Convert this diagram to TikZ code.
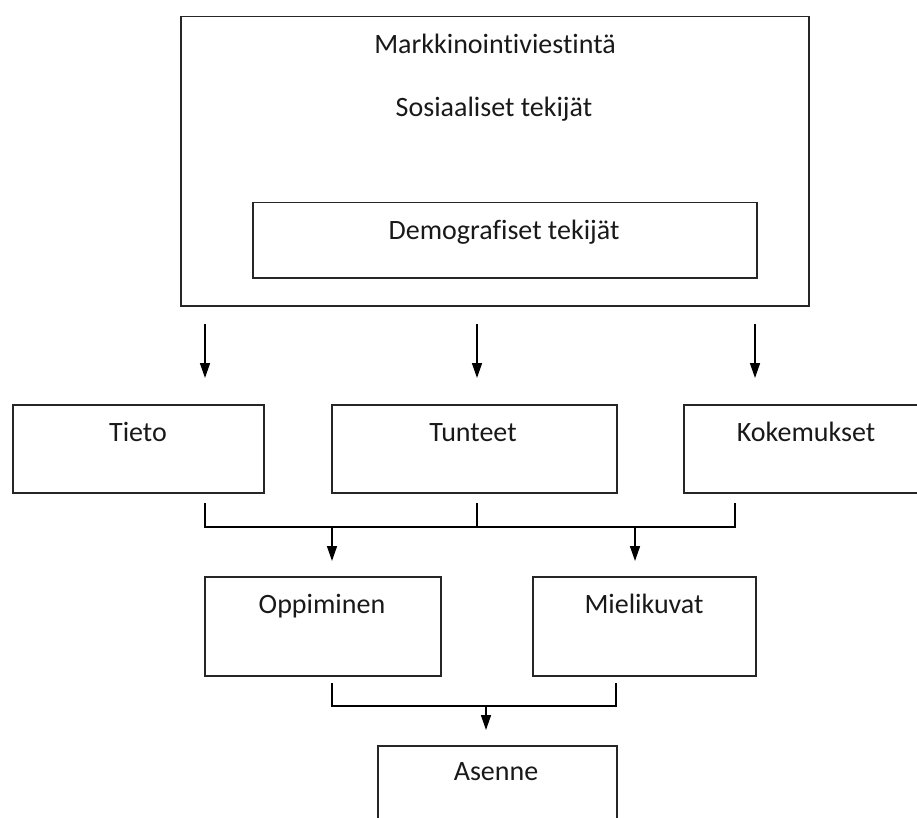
\documentclass[tikz,border=0pt]{standalone}
\usepackage{fontspec}
\setmainfont{Carlito}[Ligatures=NoCommon]
\usetikzlibrary{arrows.meta}
\begin{document}
\begin{tikzpicture}[x=1pt,y=-1pt,
  box/.style={draw=black!85, line width=1.5pt, inner sep=0pt, anchor=north west},
  lbl/.style={inner sep=0pt, anchor=base, font=\fontsize{28}{32}\selectfont, text=black!90},
  conn/.style={line width=1.5pt, draw=black},
  arr/.style={conn, -{Triangle[width=10pt,length=15pt]}}]
\useasboundingbox (0,0) rectangle (917,818);
% top box
\node[box, minimum width=628pt, minimum height=289pt] (outer) at (180,16) {};
\node[lbl] (mv) at (495,54) {Markkinointiviestintä};
\node[lbl] (sos) at (494,117) {Sosiaaliset tekijät};
\node[box, minimum width=504pt, minimum height=75pt] (inner) at (252,202) {};
\node[lbl] (dem) at (504,240) {Demografiset tekijät};
% arrows down
\coordinate (a1) at (205,324); \coordinate (b1) at (205,378);
\coordinate (a2) at (477,324); \coordinate (b2) at (477,378);
\coordinate (a3) at (755,324); \coordinate (b3) at (755,378);
\draw[arr] (a1) -- (b1);
\draw[arr] (a2) -- (b2);
\draw[arr] (a3) -- (b3);
% row boxes
\node[box, minimum width=251pt, minimum height=88pt] (tieto) at (12,404) {};
\node[lbl] at (138,441) {Tieto};
\node[box, minimum width=285pt, minimum height=88pt] (tunteet) at (331,404) {};
\node[lbl] at (473,441) {Tunteet};
\node[box, minimum width=290pt, minimum height=88pt] (kok) at (683,404) {};
\node[lbl] at (806,441) {Kokemukset};
% connector 1
\coordinate (c1) at (205,503); \coordinate (c2) at (477,503); \coordinate (c3) at (735,503);
\coordinate (h1) at (205,527); \coordinate (h2) at (477,527); \coordinate (h3) at (735,527);
\draw[conn] (c1) -- (h1) -- (h3) -- (c3);
\draw[conn] (c2) -- (h2);
\coordinate (d1) at (332,527); \coordinate (e1) at (332,561);
\coordinate (d2) at (635,527); \coordinate (e2) at (635,561);
\draw[arr] (d1) -- (e1);
\draw[arr] (d2) -- (e2);
% second row
\node[box, minimum width=236pt, minimum height=99pt] (opp) at (204,576) {};
\node[lbl] at (322,613) {Oppiminen};
\node[box, minimum width=223pt, minimum height=99pt] (miel) at (532,576) {};
\node[lbl] at (644,613) {Mielikuvat};
% connector 2
\coordinate (f1) at (332,683); \coordinate (f2) at (616,683);
\coordinate (g1) at (332,706); \coordinate (g2) at (616,706);
\draw[conn] (f1) -- (g1) -- (g2) -- (f2);
\coordinate (k1) at (486,706); \coordinate (k2) at (486,730);
\draw[arr] (k1) -- (k2);
% bottom
\node[box, minimum width=239pt, minimum height=100pt] (asenne) at (377,745) {};
\node[lbl] at (496,780) {Asenne};
\end{tikzpicture}
\end{document}
